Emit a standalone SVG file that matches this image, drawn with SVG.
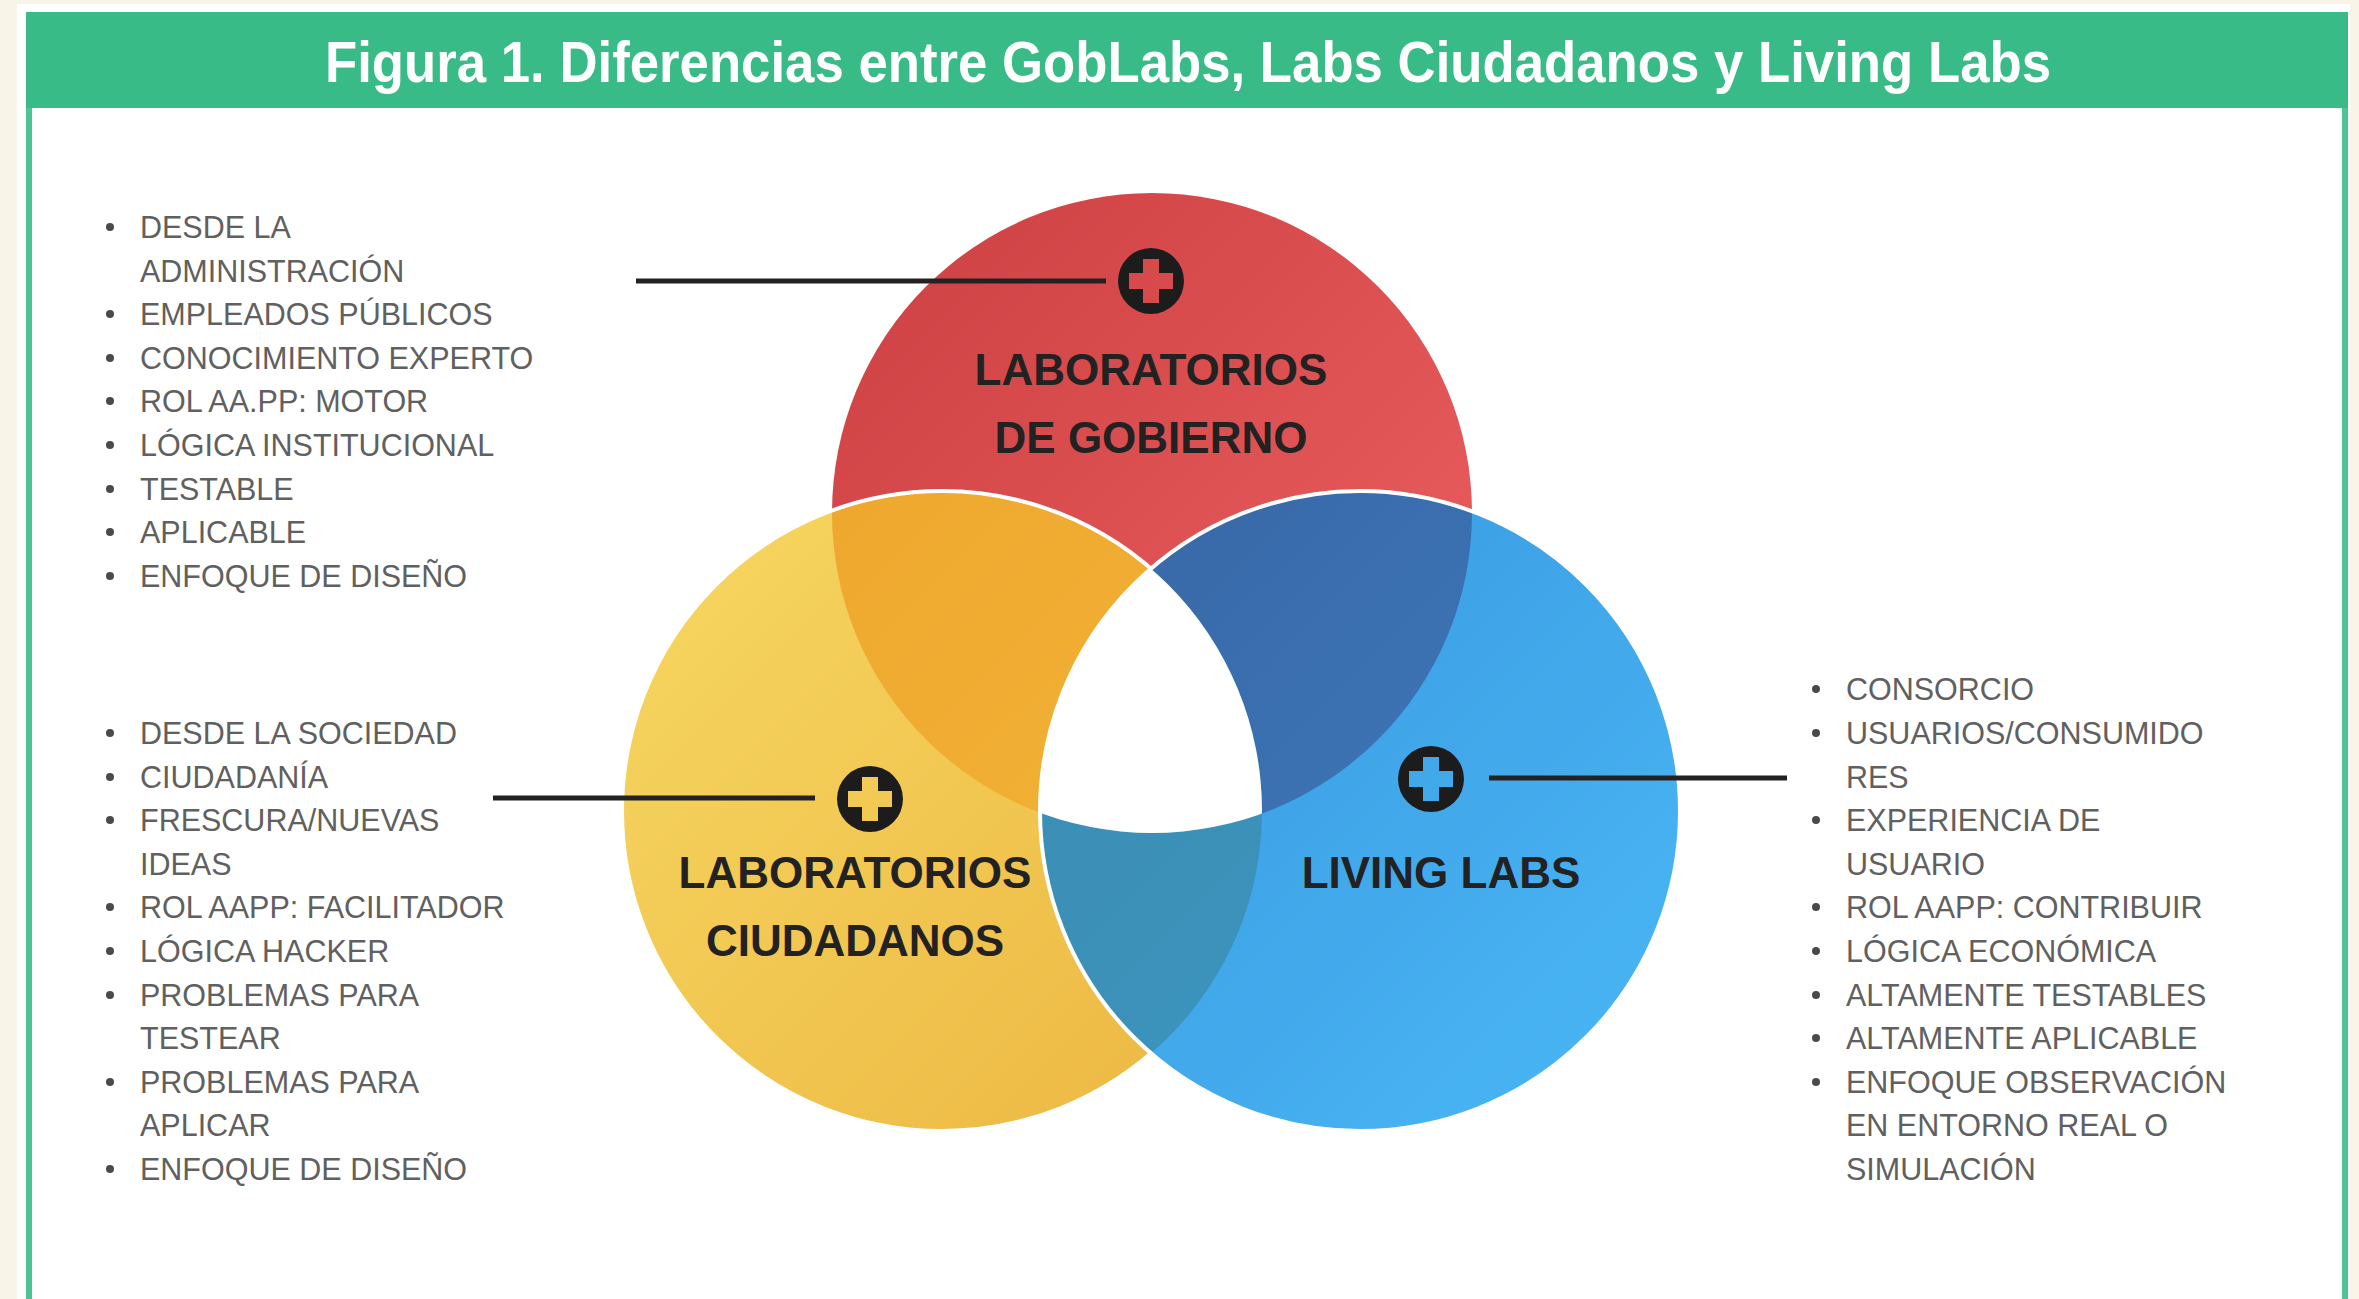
<svg xmlns="http://www.w3.org/2000/svg" width="2359" height="1299" viewBox="0 0 2359 1299">
<style>
.title{font-family:"Liberation Sans",Arial,sans-serif;font-weight:bold;font-size:58px;fill:#ffffff}
.lbl{font-family:"Liberation Sans",Arial,sans-serif;font-weight:bold;font-size:44px;fill:#222222;text-anchor:middle}
.item{font-family:"Liberation Sans",Arial,sans-serif;font-size:30.5px;fill:#606060}
.bul{fill:#4a4a4a}
.conn{stroke:#222222;stroke-width:5;fill:none}
.plus{fill:#1c1c1c;fill-rule:evenodd}
</style>
<defs>
<linearGradient id="gRed" x1="0" y1="0" x2="1" y2="1"><stop offset="0" stop-color="#cc3f42"/><stop offset="1" stop-color="#ee6262"/></linearGradient>
<linearGradient id="gYel" x1="0" y1="0" x2="1" y2="1"><stop offset="0" stop-color="#f6d862"/><stop offset="1" stop-color="#ecb641"/></linearGradient>
<linearGradient id="gBlu" x1="0" y1="0" x2="1" y2="1"><stop offset="0" stop-color="#3696dc"/><stop offset="1" stop-color="#4bb8f7"/></linearGradient>
<linearGradient id="gOra" x1="0" y1="0" x2="1" y2="1"><stop offset="0" stop-color="#eea52c"/><stop offset="1" stop-color="#f3b63a"/></linearGradient>
<linearGradient id="gDbl" x1="0" y1="0" x2="1" y2="1"><stop offset="0" stop-color="#3866a6"/><stop offset="1" stop-color="#3f80c0"/></linearGradient>
<linearGradient id="gTea" x1="0" y1="0" x2="1" y2="1"><stop offset="0" stop-color="#3c8ab0"/><stop offset="1" stop-color="#3b9ac4"/></linearGradient>
<clipPath id="cRed"><circle cx="1152" cy="513" r="320"/></clipPath>
<clipPath id="cYel"><circle cx="942" cy="811" r="320"/></clipPath>
<mask id="mNoBlue"><rect x="0" y="0" width="2359" height="1299" fill="#fff"/><circle cx="1360" cy="811" r="320" fill="#000"/></mask>
<path id="plusIcon" class="plus" d="M-33,0 a33,33 0 1,0 66,0 a33,33 0 1,0 -66,0 Z M-8,-22 h16 v14 h14 v16 h-14 v14 h-16 v-14 h-14 v-16 h14 Z"/>
</defs>

<rect x="0" y="0" width="2359" height="1299" fill="#f8f4e7"/>
<rect x="17" y="4" width="2333" height="1300" fill="#ffffff"/>
<rect x="26" y="12" width="2322" height="96" fill="#38bb86"/>
<rect x="26" y="108" width="6" height="1200" fill="#4cc494"/>
<rect x="2342" y="108" width="6" height="1200" fill="#4cc494"/>
<text class="title" x="1188" y="82" text-anchor="middle" textLength="1726" lengthAdjust="spacingAndGlyphs">Figura 1. Diferencias entre GobLabs, Labs Ciudadanos y Living Labs</text>

<g id="venn">
<circle cx="1152" cy="513" r="320" fill="url(#gRed)"/>
<circle cx="942" cy="811" r="320" fill="url(#gYel)"/>
<circle cx="1360" cy="811" r="320" fill="url(#gBlu)"/>
<circle cx="942" cy="811" r="320" fill="url(#gOra)" clip-path="url(#cRed)"/>
<circle cx="1360" cy="811" r="320" fill="url(#gDbl)" clip-path="url(#cRed)"/>
<circle cx="1360" cy="811" r="320" fill="url(#gTea)" clip-path="url(#cYel)"/>
<g clip-path="url(#cRed)"><circle cx="1360" cy="811" r="320" fill="#ffffff" clip-path="url(#cYel)"/></g>
<circle cx="942" cy="811" r="320" fill="none" stroke="#ffffff" stroke-width="4" mask="url(#mNoBlue)"/>
<circle cx="1360" cy="811" r="320" fill="none" stroke="#ffffff" stroke-width="4"/>
</g>

<g id="connectors">
<line class="conn" x1="636" y1="281" x2="1106" y2="281"/>
<line class="conn" x1="493" y1="798" x2="815" y2="798"/>
<line class="conn" x1="1489" y1="778" x2="1787" y2="778"/>
</g>

<g id="node-gobierno">
<use href="#plusIcon" x="1151" y="281"/>
<text class="lbl" x="1151" y="385">LABORATORIOS</text>
<text class="lbl" x="1151" y="453">DE GOBIERNO</text>
</g>
<g id="node-ciudadanos">
<use href="#plusIcon" x="870" y="799"/>
<text class="lbl" x="855" y="888">LABORATORIOS</text>
<text class="lbl" x="855" y="956">CIUDADANOS</text>
</g>
<g id="node-living">
<use href="#plusIcon" x="1431" y="779"/>
<text class="lbl" x="1441" y="888">LIVING LABS</text>
</g>

<g id="list-gobierno">
<circle class="bul" cx="110" cy="227" r="4"/><text class="item" x="140" y="238">DESDE LA</text>
<text class="item" x="140" y="282">ADMINISTRACIÓN</text>
<circle class="bul" cx="110" cy="314" r="4"/><text class="item" x="140" y="325">EMPLEADOS PÚBLICOS</text>
<circle class="bul" cx="110" cy="358" r="4"/><text class="item" x="140" y="369">CONOCIMIENTO EXPERTO</text>
<circle class="bul" cx="110" cy="401" r="4"/><text class="item" x="140" y="412">ROL AA.PP: MOTOR</text>
<circle class="bul" cx="110" cy="445" r="4"/><text class="item" x="140" y="456">LÓGICA INSTITUCIONAL</text>
<circle class="bul" cx="110" cy="489" r="4"/><text class="item" x="140" y="500">TESTABLE</text>
<circle class="bul" cx="110" cy="532" r="4"/><text class="item" x="140" y="543">APLICABLE</text>
<circle class="bul" cx="110" cy="576" r="4"/><text class="item" x="140" y="587">ENFOQUE DE DISEÑO</text>
</g>

<g id="list-ciudadanos">
<circle class="bul" cx="110" cy="733" r="4"/><text class="item" x="140" y="744">DESDE LA SOCIEDAD</text>
<circle class="bul" cx="110" cy="777" r="4"/><text class="item" x="140" y="788">CIUDADANÍA</text>
<circle class="bul" cx="110" cy="820" r="4"/><text class="item" x="140" y="831">FRESCURA/NUEVAS</text>
<text class="item" x="140" y="875">IDEAS</text>
<circle class="bul" cx="110" cy="907" r="4"/><text class="item" x="140" y="918">ROL AAPP: FACILITADOR</text>
<circle class="bul" cx="110" cy="951" r="4"/><text class="item" x="140" y="962">LÓGICA HACKER</text>
<circle class="bul" cx="110" cy="995" r="4"/><text class="item" x="140" y="1006">PROBLEMAS PARA</text>
<text class="item" x="140" y="1049">TESTEAR</text>
<circle class="bul" cx="110" cy="1082" r="4"/><text class="item" x="140" y="1093">PROBLEMAS PARA</text>
<text class="item" x="140" y="1136">APLICAR</text>
<circle class="bul" cx="110" cy="1169" r="4"/><text class="item" x="140" y="1180">ENFOQUE DE DISEÑO</text>
</g>

<g id="list-living">
<circle class="bul" cx="1816" cy="689" r="4"/><text class="item" x="1846" y="700">CONSORCIO</text>
<circle class="bul" cx="1816" cy="733" r="4"/><text class="item" x="1846" y="744">USUARIOS/CONSUMIDO</text>
<text class="item" x="1846" y="788">RES</text>
<circle class="bul" cx="1816" cy="820" r="4"/><text class="item" x="1846" y="831">EXPERIENCIA DE</text>
<text class="item" x="1846" y="875">USUARIO</text>
<circle class="bul" cx="1816" cy="907" r="4"/><text class="item" x="1846" y="918">ROL AAPP: CONTRIBUIR</text>
<circle class="bul" cx="1816" cy="951" r="4"/><text class="item" x="1846" y="962">LÓGICA ECONÓMICA</text>
<circle class="bul" cx="1816" cy="995" r="4"/><text class="item" x="1846" y="1006">ALTAMENTE TESTABLES</text>
<circle class="bul" cx="1816" cy="1038" r="4"/><text class="item" x="1846" y="1049">ALTAMENTE APLICABLE</text>
<circle class="bul" cx="1816" cy="1082" r="4"/><text class="item" x="1846" y="1093">ENFOQUE OBSERVACIÓN</text>
<text class="item" x="1846" y="1136">EN ENTORNO REAL O</text>
<text class="item" x="1846" y="1180">SIMULACIÓN</text>
</g>
</svg>
